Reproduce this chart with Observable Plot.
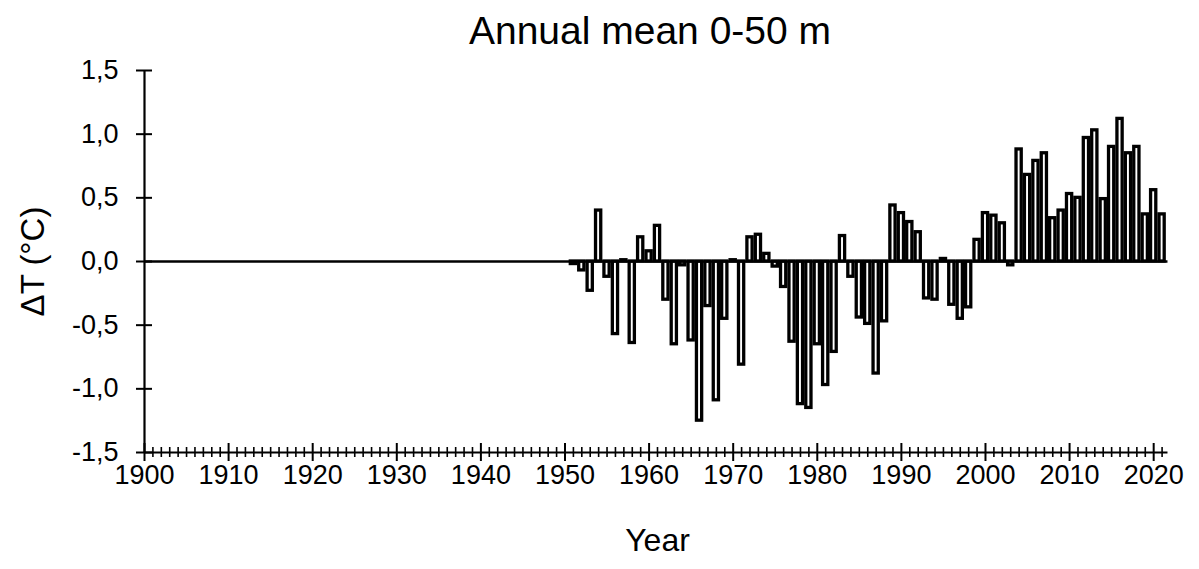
<!DOCTYPE html>
<html>
<head>
<meta charset="utf-8">
<script src="https://cdn.jsdelivr.net/npm/d3@7"></script>
<script src="https://cdn.jsdelivr.net/npm/@observablehq/plot@0.6"></script>
<style>
  body { margin: 0; background: #fff; font-family: "Liberation Sans", Arial, sans-serif; }
  #title { height: 50px; box-sizing: border-box; padding-top: 11px; line-height: 39px; font-size: 39px; text-align: center; padding-left: 130px; padding-right: 29px; color: #000; white-space: nowrap; }
  #chart svg { display: block; }
</style>
</head>
<body>
<div id="title"></div>
<div id="chart"></div>
<script>
const years = d3.range(1951, 2022);
const values = [
  -0.02, -0.07, -0.23, 0.40, -0.12, -0.57, 0.01, -0.64, 0.19, 0.08,   // 1951-1960
  0.28, -0.30, -0.65, -0.03, -0.62, -1.25, -0.35, -1.09, -0.45, 0.01, // 1961-1970
  -0.81, 0.19, 0.21, 0.06, -0.04, -0.20, -0.63, -1.12, -1.15, -0.65,  // 1971-1980
  -0.97, -0.71, 0.20, -0.12, -0.44, -0.49, -0.88, -0.47, 0.44, 0.38,  // 1981-1990
  0.31, 0.23, -0.29, -0.30, 0.02, -0.34, -0.45, -0.36, 0.17, 0.38,    // 1991-2000
  0.36, 0.30, -0.03, 0.88, 0.68, 0.79, 0.85, 0.34, 0.40, 0.53,        // 2001-2010
  0.50, 0.97, 1.03, 0.49, 0.90, 1.12, 0.85, 0.90, 0.37, 0.56,         // 2011-2020
  0.37                                                                 // 2021
];
const majorYears = d3.range(1900, 2021, 10);
const minorYears = d3.range(1900, 2022).filter(y => y % 10 !== 0);
const yTicks = [-1.5, -1.0, -0.5, 0, 0.5, 1.0, 1.5];
const titleText = "Annual mean 0-50 m";
const xLabel = "Year";
const yLabel = "ΔT (°C)";

const data = years.map((year, i) => ({year, value: values[i]}));

const chart = Plot.plot({
  width: 1199,
  height: 519,
  marginLeft: 144,
  marginRight: 29,
  marginTop: 20,
  marginBottom: 117,
  x: {domain: [1900, 2022], axis: null},
  y: {domain: [-1.5, 1.5], axis: null},
  style: {fontFamily: '"Liberation Sans", Arial, sans-serif', color: "#000", background: "#fff"},
  marks: [
    Plot.rectY(data, {x1: d => d.year - 0.31, x2: d => d.year + 0.31, y: "value", fill: "#fff", stroke: "#000", strokeWidth: 3.3}),
    Plot.ruleY([0], {x1: 1900, x2: 2021.7, stroke: "#000", strokeWidth: 2.5}),
    Plot.ruleX([1900], {y1: -1.5, y2: 1.5, stroke: "#000", strokeWidth: 2.2}),
    Plot.ruleY([-1.5], {x1: 1900, x2: 2021.7, stroke: "#000", strokeWidth: 2.2}),
    Plot.ruleY(yTicks, {y: d => d, x1: 1900, x2: 1900, insetLeft: -8, insetRight: -8, stroke: "#000", strokeWidth: 2}),
    Plot.ruleX(minorYears, {x: d => d, y1: -1.5, y2: -1.5, insetTop: -5, insetBottom: -5, stroke: "#000", strokeWidth: 1.6}),
    Plot.ruleX(majorYears, {x: d => d, y1: -1.5, y2: -1.5, insetTop: -9, insetBottom: -9, stroke: "#000", strokeWidth: 2}),
    Plot.axisY(yTicks, {tickSize: 0, tickPadding: 26, fontSize: 27, tickFormat: d => d.toFixed(1).replace(".", ","), label: null}),
    Plot.axisX(majorYears, {tickSize: 0, tickPadding: 12, fontSize: 27, tickFormat: d => String(d), label: null}),
    Plot.text([xLabel], {frameAnchor: "bottom", lineAnchor: "middle", dy: 88, fontSize: 32, text: d => d}),
    Plot.text([yLabel], {frameAnchor: "left", textAnchor: "middle", lineAnchor: "middle", dx: -111, rotate: -90, fontSize: 33, text: d => d})
  ]
});
document.getElementById("title").textContent = titleText;
document.getElementById("chart").appendChild(chart);
</script>
</body>
</html>
